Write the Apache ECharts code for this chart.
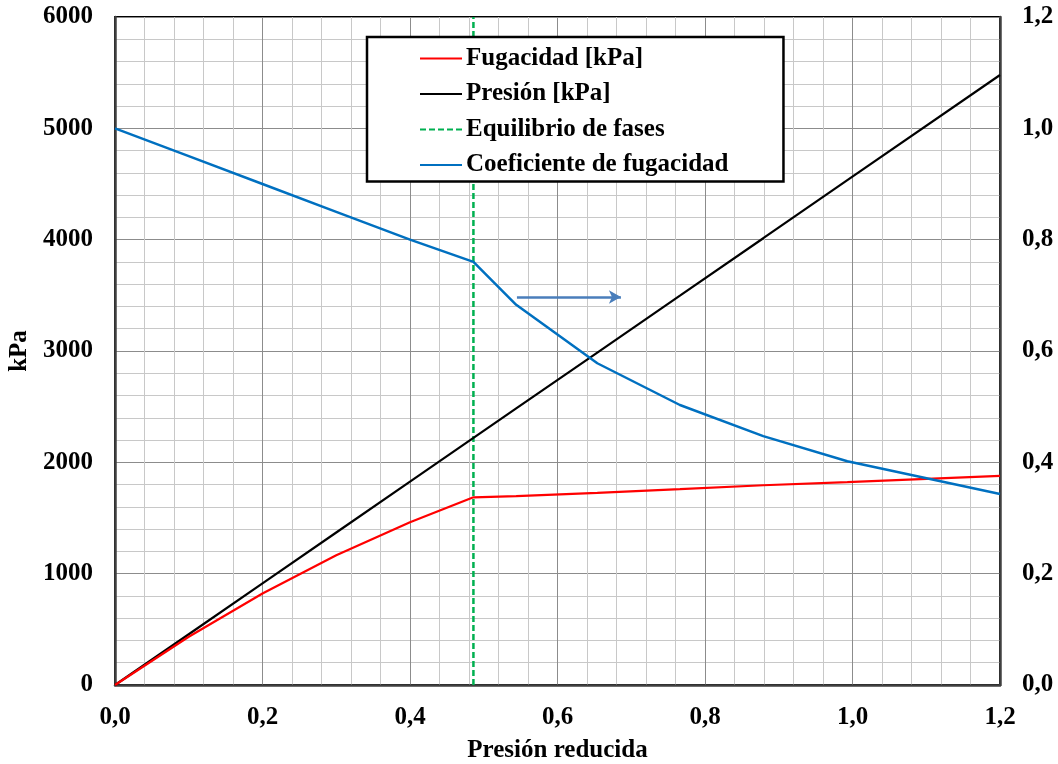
<!DOCTYPE html>
<html lang="es">
  <head>
    <meta charset="UTF-8" />
    <script src="https://cdn.jsdelivr.net/npm/echarts@6/dist/echarts.min.js"></script>
    <title>Fugacidad</title>
    <style>
      html,
      body,
      #chart {
        width: 100%;
        height: 100%;
        margin: 0;
        padding: 0;
        overflow: hidden;
        background: #fff;
      }
    </style>
  </head>
  <body>
    <div id="chart"></div>
    <script>
      // presión reducida
      const presRed = [0, 0.1, 0.2, 0.3, 0.4, 0.486, 0.544, 0.654, 0.766, 0.879, 0.993, 1.2];
      const presion = [0, 456, 913, 1370, 1826, 2219, 2484, 2986, 3497, 4013, 4534, 5479];
      const fugacidad = [0, 433, 822, 1165, 1461, 1686, 1697, 1726, 1759, 1794, 1823, 1879];
      const coefFug = [1.0, 0.95, 0.9, 0.85, 0.8, 0.76, 0.683, 0.578, 0.503, 0.447, 0.402, 0.343];
      const prEquilibrio = 0.486;
      const nombres = ["Fugacidad [kPa]", "Presión [kPa]", "Equilibrio de fases", "Coeficiente de fugacidad"];

      const font = "'Liberation Serif', 'Times New Roman', serif";
      const coma = (v) => v.toFixed(1).replace(".", ",");
      const pares = (ys) => presRed.map((x, i) => [x, ys[i]]);

      const chart = echarts.init(document.getElementById("chart"));
      const gridLines = {
        splitLine: { show: true, lineStyle: { color: "#8c8c8c", width: 1 } },
        minorTick: { show: false, splitNumber: 5 },
        minorSplitLine: { show: true, lineStyle: { color: "#c8c8c8", width: 1 } },
      };
      const label = { fontFamily: font, fontWeight: "bold", fontSize: 25, color: "#000" };

      const option = {
        animation: false,
        textStyle: { fontFamily: font },
        grid: {
          left: 115,
          right: 58,
          top: 17,
          bottom: 79,
          outerBoundsMode: "none",
          containLabel: false,
          show: true,
          borderColor: "#000",
          borderWidth: 2,
        },
        legend: {
          left: 367,
          top: 37,
          orient: "vertical",
          backgroundColor: "#fff",
          borderColor: "#000",
          borderWidth: 2.5,
          borderRadius: 0,
          padding: [9, 55, 4, 52],
          itemGap: 10.5,
          itemWidth: 42,
          itemHeight: 25,
          itemStyle: { opacity: 0 },
          textStyle: { ...label, padding: [0, 0, 0, -1] },
          data: nombres,
        },
        xAxis: {
          type: "value",
          min: 0,
          max: 1.2,
          interval: 0.2,
          name: "Presión reducida",
          nameLocation: "middle",
          nameGap: 53,
          nameTextStyle: label,
          axisLine: { show: true, lineStyle: { color: "#404040", width: 2.5 } },
          axisTick: { show: false },
          axisLabel: { ...label, margin: 20, formatter: coma },
          ...gridLines,
        },
        yAxis: [
          {
            type: "value",
            min: 0,
            max: 6000,
            interval: 1000,
            name: "kPa",
            nameLocation: "middle",
            nameGap: 80,
            nameRotate: 90,
            nameTextStyle: label,
            axisLine: { show: true, lineStyle: { color: "#404040", width: 2.5 } },
            axisTick: { show: false },
            axisLabel: { ...label, margin: 22, formatter: (v) => String(v) },
            ...gridLines,
          },
          {
            type: "value",
            min: 0,
            max: 1.2,
            interval: 0.2,
            position: "right",
            axisLine: { show: true, lineStyle: { color: "#404040", width: 2.5 } },
            axisTick: { show: false },
            axisLabel: { ...label, margin: 22, formatter: coma },
            splitLine: { show: false },
          },
        ],
        series: [
          {
            name: nombres[0],
            type: "line",
            symbol: "none",
            data: pares(fugacidad),
            itemStyle: { color: "#ff0000" },
            lineStyle: { color: "#ff0000", width: 2.2 },
            z: 4,
          },
          {
            name: nombres[1],
            type: "line",
            symbol: "none",
            data: pares(presion),
            itemStyle: { color: "#000" },
            lineStyle: { color: "#000", width: 2.2 },
            z: 3,
          },
          {
            name: nombres[2],
            type: "line",
            symbol: "none",
            data: [
              [prEquilibrio, 0],
              [prEquilibrio, 6000],
            ],
            itemStyle: { color: "#00b050" },
            lineStyle: { color: "#00b050", width: 2.5, type: [6, 3] },
            z: 2,
          },
          {
            name: nombres[3],
            type: "line",
            symbol: "none",
            yAxisIndex: 1,
            data: pares(coefFug),
            itemStyle: { color: "#0070c0" },
            lineStyle: { color: "#0070c0", width: 2.5 },
            z: 5,
            markLine: {
              silent: true,
              symbol: ["none", "arrow"],
              symbolSize: [10, 12],
              label: { show: false },
              lineStyle: { color: "#4a7ebb", width: 2.5, type: "solid" },
              data: [
                [
                  { coord: [0.545, 0.697] },
                  { coord: [0.686, 0.697] },
                ],
              ],
            },
          },
        ],
      };
      chart.setOption(option);
    </script>
  </body>
</html>
